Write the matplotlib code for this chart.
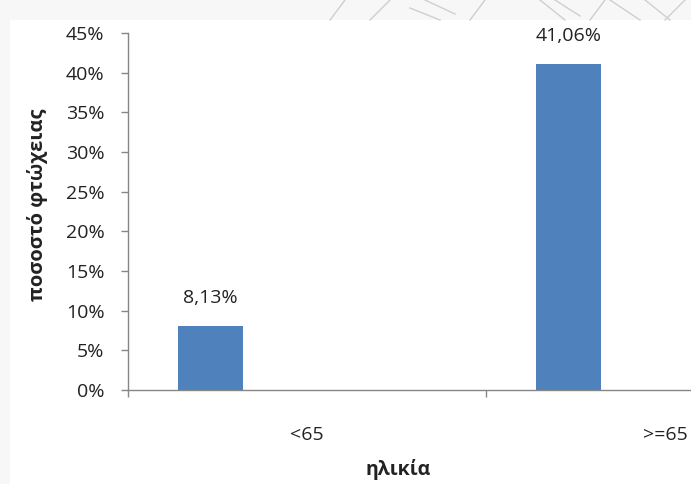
import matplotlib
matplotlib.use("Agg")
import matplotlib.pyplot as plt
from matplotlib.patches import Rectangle

categories = ["<65", ">=65"]
values = [8.13, 41.06]
value_labels = ["8,13%", "41,06%"]
y_ticks = [0, 5, 10, 15, 20, 25, 30, 35, 40, 45]
y_tick_labels = [f"{t}%" for t in y_ticks]
x_label = "ηλικία"
y_label = "ποσοστό φτώχειας"

plt.rcParams['font.family'] = ['Open Sans', 'DejaVu Sans']

W, H = 691, 484
fig = plt.figure(figsize=(W / 100, H / 100), dpi=100)
fig.patch.set_facecolor('#f7f7f7')
# white chart area
fig.add_artist(Rectangle((10 / W, 0), 1, 1 - 20 / H, transform=fig.transFigure,
                         facecolor='white', edgecolor='none', zorder=0))
# faint watermark strokes in top band
wm = [((330, 20), (345, 0)), ((370, 20), (390, 0)), ((410, 8), (440, 20)),
      ((425, 0), (455, 14)), ((470, 20), (485, 0)), ((540, 0), (565, 20)),
      ((555, 0), (580, 16)), ((590, 20), (605, 0)), ((610, 0), (640, 20)),
      ((645, 0), (670, 20)), ((665, 20), (685, 0))]
for (x0, y0), (x1, y1) in wm:
    fig.add_artist(plt.Line2D([x0 / W, x1 / W], [1 - y0 / H, 1 - y1 / H],
                              transform=fig.transFigure, color='#cfcfcf', lw=1.0, zorder=1))

left, right = 128, 844
bottom, top = 390, 33
ax = fig.add_axes([left / W, 1 - bottom / H, (right - left) / W, (bottom - top) / H])
ax.set_facecolor('none')

n = len(categories)
pos = list(range(n))
offset = -0.27
bw = 0.182
xs = [p + offset for p in pos]
ax.bar(xs, values, width=bw, color='#4F81BD', zorder=2)

for x, v, lab in zip(xs, values, value_labels):
    ax.annotate(lab, (x, v), xytext=(0, 20), textcoords='offset points',
                ha='center', va='center', fontsize=14, color='#222222')

ax.set_xlim(-0.5, n - 0.5)
ax.set_ylim(0, 45)
ax.set_yticks(y_ticks)
ax.set_yticklabels(y_tick_labels)
ax.set_xticks(pos)
ax.set_xticklabels(categories)
ax.set_xticks([-0.5 + i for i in range(n + 1)], minor=True)

for s in ['top', 'right']:
    ax.spines[s].set_visible(False)
for s in ['left', 'bottom']:
    ax.spines[s].set_color('#868686')
    ax.spines[s].set_linewidth(1.0)

ax.tick_params(axis='y', direction='out', length=5, width=1, color='#868686',
               pad=12, labelsize=14, labelcolor='#222222')
ax.tick_params(axis='x', which='major', length=0, pad=26, labelsize=14, labelcolor='#222222')
ax.tick_params(axis='x', which='minor', direction='out', length=5, width=1, color='#868686')

fig.text(398 / W, 1 - 470 / H, x_label, ha='center', va='center',
         fontsize=14, fontweight='bold', color='#222222')
fig.text(38 / W, 1 - 205 / H, y_label, ha='center', va='center', rotation=90,
         fontsize=14.5, fontweight='bold', color='#222222')

fig.savefig('out.png', dpi=100, facecolor=fig.get_facecolor())
